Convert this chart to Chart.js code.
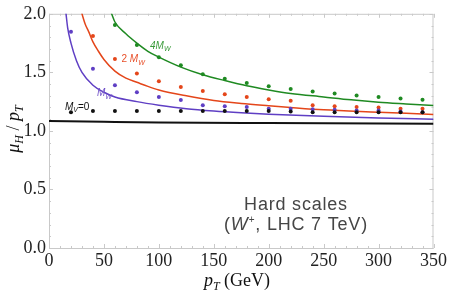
<!DOCTYPE html>
<html>
<head>
<meta charset="utf-8">
<script src="https://cdn.jsdelivr.net/npm/chart.js@4.4.1/dist/chart.umd.min.js"></script>
<style>
    html, body { margin: 0; padding: 0; background: #fff; }
    #wrap { width: 449px; height: 294px; position: relative; }
</style>
</head>
<body>
<div id="wrap"><canvas id="chart"></canvas></div>
<script>
// ============ Data ============

// sampled p_T values of the dots (GeV)
const PT_POINTS = [20, 40, 60, 80, 100, 120, 140, 160, 180, 200, 220, 240, 260, 280, 300, 320, 340];

// dots: mu_H / p_T (null = above the plotted range)
const DOTS_MV0 = [1.16, 1.17, 1.17, 1.17, 1.17, 1.17, 1.17, 1.17, 1.17, 1.17, 1.165, 1.16, 1.16, 1.16, 1.16, 1.16, 1.16];
const DOTS_MW  = [1.846, 1.53, 1.39, 1.33, 1.29, 1.264, 1.22, 1.21, 1.205, 1.19, 1.19, 1.185, 1.18, 1.175, 1.175, 1.165, 1.16];
const DOTS_2MW = [null, 1.81, 1.615, 1.49, 1.424, 1.375, 1.34, 1.312, 1.29, 1.27, 1.258, 1.22, 1.21, 1.205, 1.20, 1.19, 1.19];
const DOTS_4MW = [null, null, 1.905, 1.733, 1.63, 1.56, 1.484, 1.445, 1.41, 1.381, 1.357, 1.336, 1.32, 1.303, 1.289, 1.277, 1.265];

// curves
const CURVE_MV0_PT  = [0, 50, 100, 200, 350];
const CURVE_MV0_VAL = [1.085, 1.078, 1.072, 1.067, 1.062];

const CURVE_MW_PT  = [14, 15.5, 17, 20, 25, 30, 40, 50, 60, 80, 100, 125, 150, 175, 200, 250, 300, 350];
const CURVE_MW_VAL = [2.12, 2.0, 1.88, 1.75, 1.60, 1.50, 1.39, 1.33, 1.29, 1.25, 1.22, 1.19, 1.17, 1.155, 1.143, 1.125, 1.11, 1.10];

const CURVE_2MW_PT  = [28, 30, 33, 36, 40, 45, 50, 60, 70, 80, 90, 100, 125, 150, 175, 200, 220, 250, 300, 350];
const CURVE_2MW_VAL = [2.07, 2.0, 1.91, 1.85, 1.76, 1.68, 1.61, 1.51, 1.45, 1.415, 1.38, 1.35, 1.30, 1.26, 1.235, 1.215, 1.20, 1.18, 1.16, 1.14];

const CURVE_4MW_PT  = [55, 57, 60, 70, 80, 90, 100, 120, 140, 160, 180, 200, 220, 250, 275, 300, 325, 350];
const CURVE_4MW_VAL = [2.05, 2.0, 1.93, 1.83, 1.75, 1.68, 1.63, 1.545, 1.48, 1.43, 1.385, 1.35, 1.32, 1.29, 1.265, 1.245, 1.23, 1.216];

// axis ranges and tick steps
const X_MIN = 0, X_MAX = 350, X_STEP = 50, X_MINOR = 10;
const Y_MIN = 0, Y_MAX = 2, Y_STEP = 0.5, Y_MINOR = 0.1;

// ============ Colors ============

const COL_BLACK = '#111111';
const COL_PURPLE = '#5f3fc4';
const COL_RED = '#e4461a';
const COL_GREEN = '#1f8a22';

// ============ Helpers ============

function toXY(xs, ys) {
    return xs.map((x, i) => ({ x: x, y: ys[i] }));
}

function curveSet(xs, ys, color, width) {
    return {
        data: toXY(xs, ys),
        borderColor: color,
        borderWidth: width,
        pointRadius: 0,
        fill: false,
        cubicInterpolationMode: 'monotone',
        order: 2
    };
}

function dotSet(ys, color) {
    return {
        data: toXY(PT_POINTS, ys),
        showLine: false,
        pointRadius: 2,
        pointBorderWidth: 0,
        pointBackgroundColor: color,
        borderColor: color,
        order: 1
    };
}

// draws a run of text pieces (fonts / vertical shifts) starting at x
function drawRich(ctx, x, y, parts, align) {
    let w = 0;
    parts.forEach(p => { ctx.font = p.font; w += ctx.measureText(p.t).width; });
    let cx = align === 'center' ? x - w / 2 : x;
    parts.forEach(p => {
        ctx.font = p.font;
        ctx.fillText(p.t, cx, y + (p.dy || 0));
        cx += ctx.measureText(p.t).width;
    });
}

// ============ Plugins ============

const frameDecor = {
    id: 'frameDecor',
    beforeDatasetsDraw(chart) {
        const { ctx, chartArea: a, scales: { x, y } } = chart;
        ctx.save();
        ctx.strokeStyle = '#c9c9c9';
        ctx.lineWidth = 1;
        ctx.strokeRect(a.left + 0.5, a.top + 0.5, a.right - a.left - 1, a.bottom - a.top);

        ctx.beginPath();
        for (let v = X_MIN; v <= X_MAX + 1e-6; v += X_MINOR) {
            const px = Math.round(x.getPixelForValue(v)) + 0.5;
            const len = Math.abs(v % X_STEP) < 1e-6 ? 4 : 2;
            ctx.moveTo(px, a.bottom); ctx.lineTo(px, a.bottom - len);
            ctx.moveTo(px, a.top); ctx.lineTo(px, a.top + len);
        }
        for (let i = 0; i <= Math.round((Y_MAX - Y_MIN) / Y_MINOR); i++) {
            const v = Y_MIN + i * Y_MINOR;
            const py = Math.round(y.getPixelForValue(v)) + 0.5;
            const len = i % 5 === 0 ? 4 : 2;
            ctx.moveTo(a.left, py); ctx.lineTo(a.left + len, py);
            ctx.moveTo(a.right, py); ctx.lineTo(a.right - len, py);
        }
        ctx.stroke();
        ctx.restore();
    },
    afterDatasetsDraw(chart) {
        const { ctx } = chart;
        ctx.save();
        ctx.textBaseline = 'alphabetic';
        ctx.textAlign = 'left';

        // curve labels
        const f = 'italic 10px "Liberation Sans"';
        const fs = 'italic 7px "Liberation Sans"';
        ctx.fillStyle = '#3a9a3a';
        drawRich(ctx, 150, 48.5, [{ t: '4', font: f }, { t: 'M', font: f }, { t: 'W', font: fs, dy: 2.5 }]);
        ctx.fillStyle = '#e8502a';
        drawRich(ctx, 121.5, 62, [{ t: '2 ', font: '10px "Liberation Sans"' }, { t: 'M', font: f }, { t: 'W', font: fs, dy: 2.5 }]);
        ctx.fillStyle = '#7050c8';
        drawRich(ctx, 97, 96, [{ t: 'M', font: f }, { t: 'W', font: fs, dy: 2.5 }]);
        ctx.fillStyle = '#111';
        drawRich(ctx, 65, 109.5, [{ t: 'M', font: f }, { t: 'V', font: fs, dy: 2.5 }, { t: '=0', font: '10px "Liberation Sans"' }]);

        // annotation
        ctx.fillStyle = '#454545';
        ctx.letterSpacing = '0.8px';
        drawRich(ctx, 296, 210, [{ t: 'Hard scales', font: '18px "Liberation Sans"' }], 'center');
        drawRich(ctx, 296, 230, [
            { t: '(', font: '18px "Liberation Sans"' },
            { t: 'W', font: 'italic 18px "Liberation Sans"' },
            { t: '+', font: '10px "Liberation Sans"', dy: -7 },
            { t: ', LHC 7 TeV)', font: '18px "Liberation Sans"' }
        ], 'center');
        ctx.letterSpacing = '0px';

        // axis titles
        ctx.fillStyle = '#111';
        drawRich(ctx, 237, 286, [
            { t: 'p', font: 'italic 18px "Liberation Serif"' },
            { t: 'T', font: 'italic 12px "Liberation Serif"', dy: 4 },
            { t: ' (GeV)', font: '18px "Liberation Serif"' }
        ], 'center');

        ctx.translate(19, 129);
        ctx.rotate(-Math.PI / 2);
        drawRich(ctx, 0, 0, [
            { t: 'μ', font: 'italic 18px "Liberation Serif"' },
            { t: 'H', font: 'italic 12px "Liberation Serif"', dy: 4 },
            { t: ' / ', font: '18px "Liberation Serif"' },
            { t: 'p', font: 'italic 18px "Liberation Serif"' },
            { t: 'T', font: 'italic 12px "Liberation Serif"', dy: 4 }
        ], 'center');
        ctx.restore();
    }
};

// ============ Chart ============

const ctx = document.getElementById('chart').getContext('2d');

new Chart(ctx, {
    type: 'line',
    data: {
        datasets: [
            curveSet(CURVE_MV0_PT, CURVE_MV0_VAL, COL_BLACK, 2),
            curveSet(CURVE_MW_PT, CURVE_MW_VAL, COL_PURPLE, 1.5),
            curveSet(CURVE_2MW_PT, CURVE_2MW_VAL, COL_RED, 1.5),
            curveSet(CURVE_4MW_PT, CURVE_4MW_VAL, COL_GREEN, 1.5),
            dotSet(DOTS_MV0, COL_BLACK),
            dotSet(DOTS_MW, COL_PURPLE),
            dotSet(DOTS_2MW, COL_RED),
            dotSet(DOTS_4MW, COL_GREEN)
        ]
    },
    options: {
        responsive: true,
        maintainAspectRatio: false,
        animation: false,
        events: [],
        layout: { padding: { top: 11, right: 15, left: 0, bottom: 0 } },
        plugins: {
            legend: { display: false },
            tooltip: { enabled: false }
        },
        scales: {
            x: {
                type: 'linear',
                min: X_MIN,
                max: X_MAX,
                grid: { display: false, drawTicks: false },
                border: { display: false },
                afterFit: (scale) => { scale.height = 46; },
                ticks: {
                    stepSize: X_STEP,
                    padding: 2,
                    maxRotation: 0,
                    color: '#222',
                    font: { family: '"Liberation Serif"', size: 18 }
                }
            },
            y: {
                min: Y_MIN,
                max: Y_MAX,
                grid: { display: false, drawTicks: false },
                border: { display: false },
                afterFit: (scale) => { scale.width = 49; },
                ticks: {
                    stepSize: Y_STEP,
                    padding: 3,
                    color: '#222',
                    font: { family: '"Liberation Serif"', size: 18 },
                    callback: (val) => Number(val).toFixed(1)
                }
            }
        }
    },
    plugins: [frameDecor]
});
</script>
</body>
</html>
